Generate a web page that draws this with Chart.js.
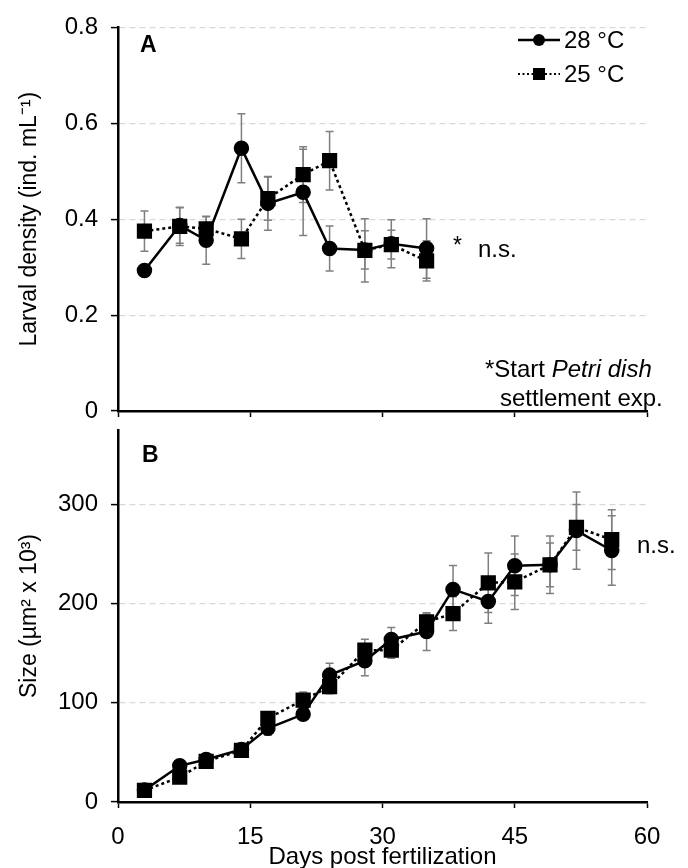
<!DOCTYPE html>
<html>
<head>
<meta charset="utf-8">
<script src="https://cdn.jsdelivr.net/npm/chart.js@4.4.1/dist/chart.umd.min.js"></script>
<style>
html, body { margin: 0; padding: 0; background: #fff; }
#wrap { position: relative; width: 688px; height: 868px; }
canvas { position: absolute; left: 0; top: 0; }
</style>
</head>
<body>
<div id="wrap">
<canvas id="chartA" width="688" height="868"></canvas>
<canvas id="chartB" width="688" height="868"></canvas>
</div>
<script>
// panel A - larval density
var daysA = [3, 7, 10, 14, 17, 21, 24, 28, 31, 35];
var density28 = [0.293, 0.387, 0.356, 0.548, 0.433, 0.456, 0.339, 0.336, 0.349, 0.339];
var density28Err = [0.008, 0.037, 0.05, 0.072, 0.056, 0.09, 0.047, 0.04, 0.05, 0.062];
var density25 = [0.375, 0.385, 0.380, 0.359, 0.443, 0.493, 0.522, 0.335, 0.347, 0.313];
var density25Err = [0.042, 0.04, 0.025, 0.041, 0.045, 0.058, 0.061, 0.066, 0.03, 0.042];

// panel B - larval size
var daysB = [3, 7, 10, 14, 17, 21, 24, 28, 31, 35, 38, 42, 45, 49, 52, 56];
var size28 = [12, 36.5, 42.8, 53, 74.3, 88.4, 127.9, 142.3, 163.8, 171.8, 214.3, 202.2, 238.1, 239.1, 273.6, 253.5];
var size28Err = [3, 4, 4, 4, 7, 4, 12, 15, 12, 19, 24, 22, 30, 29, 39, 35];
var size25 = [11.7, 25, 41, 52, 84.4, 102.8, 116.2, 153, 153, 181.5, 189.9, 221, 222, 239, 276.9, 264.5];
var size25Err = [3, 3, 4, 4, 5, 8, 7, 11, 8, 8, 17, 30, 28, 22, 23, 30];

var seriesNames = ['28 °C', '25 °C'];
var xTicks = [0, 15, 30, 45, 60];

var FONT = "'Liberation Sans', Arial, sans-serif";
Chart.defaults.font.family = FONT;
Chart.defaults.color = '#000';

function toPoints(days, vals) {
	return days.map(function (d, i) { return {x: d, y: vals[i]}; });
}

//error bars drawn under the markers, positioned with the y scale
var errorBars = {
	id: 'errorBars',
	beforeDatasetsDraw: function (chart) {
		var ctx = chart.ctx;
		var yScale = chart.scales.y;
		ctx.save();
		ctx.strokeStyle = '#7f7f7f';
		ctx.lineWidth = 1.5;
		chart.data.datasets.forEach(function (ds, i) {
			var meta = chart.getDatasetMeta(i);
			meta.data.forEach(function (pt, j) {
				var v = ds.data[j].y, e = ds.errors[j];
				var top = yScale.getPixelForValue(v + e);
				var bot = yScale.getPixelForValue(v - e);
				ctx.beginPath();
				ctx.moveTo(pt.x, top); ctx.lineTo(pt.x, bot);
				ctx.moveTo(pt.x - 4, top); ctx.lineTo(pt.x + 4, top);
				ctx.moveTo(pt.x - 4, bot); ctx.lineTo(pt.x + 4, bot);
				ctx.stroke();
			});
		});
		ctx.restore();
	}
};

function makeDatasets(days, v28, e28, v25, e25) {
	return [{
		label: seriesNames[0],
		data: toPoints(days, v28),
		errors: e28,
		borderColor: '#000',
		backgroundColor: '#000',
		borderWidth: 2.5,
		pointStyle: 'circle',
		pointRadius: 6.5,
		tension: 0
	}, {
		label: seriesNames[1],
		data: toPoints(days, v25),
		errors: e25,
		borderColor: '#000',
		backgroundColor: '#000',
		borderWidth: 2.5,
		borderDash: [3, 3],
		pointStyle: 'rect',
		pointRadius: 9,
		tension: 0
	}];
}

function xAxis(showLabels, height) {
	return {
		type: 'linear',
		min: 0, max: 60,
		afterBuildTicks: function (s) { s.ticks = xTicks.map(function (v) { return {value: v}; }); },
		afterFit: function (s) { s.height = height; },
		ticks: {display: showLabels, font: {size: 24}, padding: 15, maxRotation: 0},
		grid: {drawOnChartArea: false, drawTicks: true, tickLength: 6, tickColor: '#000', tickWidth: 1.5, tickBorderDash: []},
		border: {color: '#000', width: 2.5},
		title: {display: showLabels, text: 'Days post fertilization', font: {size: 24, lineHeight: 0.9}, padding: {top: 0, bottom: 0}}
	};
}

function yAxis(max, step, title) {
	return {
		min: 0, max: max,
		afterBuildTicks: function (s) {
			s.ticks = s.ticks.filter(function (t) { return Math.abs(t.value / step - Math.round(t.value / step)) < 1e-6; });
		},
		afterFit: function (s) { s.width = 118; },
		ticks: {stepSize: step, font: {size: 24}, padding: 13},
		grid: {color: '#d9d9d9', lineWidth: 1.2, tickColor: '#000', tickLength: 7, tickWidth: 1.5, tickBorderDash: []},
		border: {color: '#000', width: 2.5, dash: [6, 4]},
		title: {display: true, text: title, font: {size: 23}, padding: {top: 16, bottom: 0}}
	};
}

function drawText(ctx, txt, x, y, font, align) {
	ctx.font = font;
	ctx.textAlign = align || 'left';
	ctx.textBaseline = 'alphabetic';
	ctx.fillStyle = '#000';
	ctx.fillText(txt, x, y);
}

var panelAText = {
	id: 'panelAText',
	afterDraw: function (chart) {
		var ctx = chart.ctx;
		ctx.save();
		drawText(ctx, 'A', 140, 52, 'bold 23px ' + FONT);
		drawText(ctx, '*', 453, 253, '23px ' + FONT);
		drawText(ctx, 'n.s.', 478, 257, '24px ' + FONT);
		drawText(ctx, '*Start ', 485, 377, '24px ' + FONT);
		var w = ctx.measureText('*Start ').width;
		drawText(ctx, 'Petri dish', 485 + w, 377, 'italic 24px ' + FONT);
		drawText(ctx, 'settlement exp.', 500, 406, '24px ' + FONT);

		// legend
		ctx.strokeStyle = '#000';
		ctx.fillStyle = '#000';
		ctx.lineWidth = 2.5;
		ctx.beginPath(); ctx.moveTo(518, 40); ctx.lineTo(560, 40); ctx.stroke();
		ctx.beginPath(); ctx.arc(539, 40, 6, 0, Math.PI * 2); ctx.fill();
		ctx.setLineDash([2, 2.5]);
		ctx.lineWidth = 2;
		ctx.beginPath(); ctx.moveTo(518, 74); ctx.lineTo(560, 74); ctx.stroke();
		ctx.setLineDash([]);
		ctx.fillRect(533, 68, 12, 12);
		drawText(ctx, seriesNames[0], 564, 48, '24px ' + FONT);
		drawText(ctx, seriesNames[1], 564, 82, '24px ' + FONT);
		ctx.restore();
	}
};

var panelBText = {
	id: 'panelBText',
	afterDraw: function (chart) {
		var ctx = chart.ctx;
		ctx.save();
		drawText(ctx, 'B', 142, 462, 'bold 23px ' + FONT);
		drawText(ctx, 'n.s.', 637, 553, '24px ' + FONT);
		ctx.restore();
	}
};

var commonOpts = {
	responsive: false,
	animation: false,
	devicePixelRatio: 1,
	plugins: {legend: {display: false}, tooltip: {enabled: false}}
};

new Chart(document.getElementById('chartA'), {
	type: 'line',
	data: {datasets: makeDatasets(daysA, density28, density28Err, density25, density25Err)},
	options: Object.assign({}, commonOpts, {
		layout: {padding: {top: 21, right: 41, bottom: 443, left: 0}},
		scales: {
			x: xAxis(false, 14),
			y: yAxis(0.8, 0.2, 'Larval density (ind. mL\u207B\u00B9)')
		}
	}),
	plugins: [errorBars, panelAText]
});

new Chart(document.getElementById('chartB'), {
	type: 'line',
	data: {datasets: makeDatasets(daysB, size28, size28Err, size25, size25Err)},
	options: Object.assign({}, commonOpts, {
		layout: {padding: {top: 430, right: 41, bottom: 0, left: 0}},
		scales: {
			x: xAxis(true, 66),
			y: yAxis(375, 100, 'Size (\u00B5m\u00B2 x 10\u00B3)')
		}
	}),
	plugins: [errorBars, panelBText]
});
</script>
</body>
</html>
